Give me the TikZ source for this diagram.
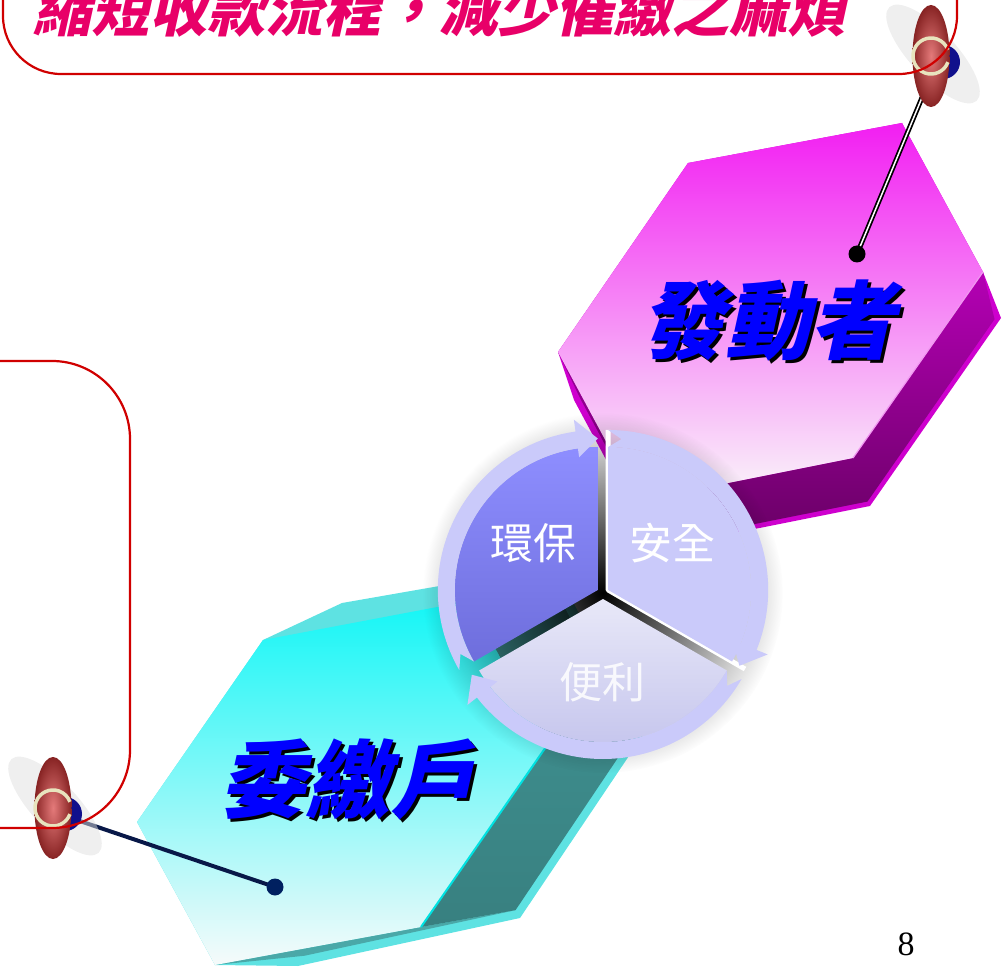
\documentclass[tikz,border=0pt]{standalone}
\usepackage{fontspec}
\newfontfamily\cjk{Noto Sans CJK TC}
\newfontfamily\cjksl[FakeSlant=0.22]{Noto Sans CJK TC}
\newfontfamily\tnr{Liberation Serif}
\usetikzlibrary{calc,fadings}
\definecolor{boxred}{RGB}{208,0,0}
\definecolor{titlepink}{RGB}{232,0,104}
\definecolor{pmRim}{RGB}{206,0,206}
\definecolor{pmSideTop}{RGB}{180,0,180}
\definecolor{pmSideBot}{RGB}{104,0,100}
\definecolor{pmFrontTop}{RGB}{242,30,242}
\definecolor{pmFrontBot}{RGB}{250,247,250}
\definecolor{pmEdge}{RGB}{240,150,240}
\definecolor{cyRim}{RGB}{94,226,226}
\definecolor{cySideTop}{RGB}{66,150,150}
\definecolor{cySideBot}{RGB}{56,128,128}
\definecolor{cyBottom}{RGB}{74,168,168}
\definecolor{cyFrontTop}{RGB}{20,246,246}
\definecolor{cyFrontBot}{RGB}{246,250,250}
\definecolor{cyEdge}{RGB}{0,226,226}
\definecolor{hbTop}{RGB}{142,142,255}
\definecolor{hbBot}{RGB}{110,110,220}
\definecolor{blTop}{RGB}{232,232,248}
\definecolor{blBot}{RGB}{194,194,236}
\definecolor{lav}{RGB}{202,202,250}
\definecolor{pinNavy}{RGB}{16,16,140}
\definecolor{pinIn}{RGB}{228,122,122}
\definecolor{pinOut}{RGB}{135,35,35}
\definecolor{cream}{RGB}{232,228,190}
\definecolor{lineNavy}{RGB}{8,24,72}
\definecolor{dotNavy}{RGB}{0,32,96}
\definecolor{headBlue}{RGB}{0,0,255}
\tikzfading[name=cfade, inner color=transparent!0, outer color=transparent!100]
\newcommand{\rsband}[3]{%
  \fill[#3] (#1:160) arc[start angle=#1, end angle={#2-8}, radius=160]
    -- ({#2-8}:172) -- (#2:151.5) -- ({#2-8}:134) -- ({#2-8}:143)
    arc[start angle={#2-8}, end angle=#1, radius=143] -- ({#1+5}:151.5) -- cycle;}
\newcommand{\rspin}[2]{%
  \begin{scope}[shift={(#1,#2)}]
    \fill[gray!25, opacity=0.5, rotate around={-47:(2,-2)}] (2,-2) ellipse[x radius=64, y radius=23];
    \fill[pinNavy] (12,6) circle[radius=17];
    \shade[inner color=pinIn, outer color=pinOut] (0,0) ellipse[x radius=18.5, y radius=51];
    \draw[cream, line width=3.5pt] (20:18) arc[start angle=20, end angle=340, radius=18];
  \end{scope}}
\tikzset{
  redbox/.style={draw=boxred, line width=2.2pt},
  headtxt/.style={font=\cjksl\bfseries\fontsize{85}{85}\selectfont, inner sep=0pt},
  lbltxt/.style={font=\cjk\fontsize{43}{43}\selectfont, text=white, inner sep=0pt},
  blackdot/.style={circle, inner sep=0pt, minimum size=17pt, fill=black},
  navydot/.style={circle, inner sep=0pt, minimum size=17pt, fill=dotNavy},
}
\begin{document}
\begin{tikzpicture}[x=1pt,y=-1pt]
\useasboundingbox (0,0) rectangle (1005,968);
\clip (0,0) rectangle (1005,968);

% ---------- purple hexagon ----------
\coordinate (pfTL) at (688,163); \coordinate (pfTR) at (902,123);
\coordinate (pfR) at (983,272);  \coordinate (pfBR) at (853,458);
\coordinate (pfBL) at (638,501); \coordinate (pfL) at (558,352);
\coordinate (pbTL) at (704,209); \coordinate (pbTR) at (918,169);
\coordinate (pbR) at (1001,318);  \coordinate (pbBR) at (870,506);
\coordinate (pbBL) at (654,549); \coordinate (pbL) at (574,400);
\coordinate (pbC) at (786,358);
\coordinate (pbRi) at ($(pbC)!0.97!(pbR)$);
\coordinate (pbBRi) at ($(pbC)!0.97!(pbBR)$);
\coordinate (pbBLi) at ($(pbC)!0.97!(pbBL)$);
\coordinate (pbLi) at ($(pbC)!0.97!(pbL)$);
\fill[pmRim] (pfTL) -- (pfTR) -- (pfR) -- (pbR) -- (pbBR) -- (pbBL) -- (pbL) -- (pfL) -- cycle;
\shade[top color=pmSideTop, bottom color=pmSideBot] (pfR) -- (pfBR) -- (pfBL) -- (pfL) -- (pbLi) -- (pbBLi) -- (pbBRi) -- (pbRi) -- cycle;
\shade[top color=pmFrontTop, bottom color=pmFrontBot] (pfTL) -- (pfTR) -- (pfR) -- (pfBR) -- (pfBL) -- (pfL) -- cycle;
\draw[pmEdge, line width=1.2pt] (pfR) -- (pfBR);

% ---------- cyan hexagon ----------
\coordinate (cfTL) at (263,640); \coordinate (cfTR) at (469,601);
\coordinate (cfR) at (548,744);  \coordinate (cfBR) at (421,927);
\coordinate (cfBL) at (215,965); \coordinate (cfL) at (137,822);
\coordinate (cbTL) at (342,603); \coordinate (cbTR) at (554,566);
\coordinate (cbR) at (643,735);  \coordinate (cbBR) at (520,918);
\coordinate (cbBL) at (298,966); \coordinate (cbL) at (215,800);
\coordinate (cbC) at ($(cbTL)!0.5!(cbBR)$);
\coordinate (cbTRi) at ($(cbC)!0.95!(cbTR)$);
\coordinate (cbRi) at ($(cbC)!0.95!(cbR)$);
\coordinate (cbBRi) at ($(cbC)!0.95!(cbBR)$);
\coordinate (cbBLi) at ($(cbC)!0.95!(cbBL)$);
\fill[cyRim] (cfL) -- (cfTL) -- (cbTL) -- (cbTR) -- (cbR) -- (cbBR) -- (cbBL) -- (cfBL) -- cycle;
\fill[cyBottom] (cfBR) -- (cfBL) -- (cbBLi) -- (cbBRi) -- cycle;
\shade[top color=cySideTop, bottom color=cySideBot] (cfTR) -- (cfR) -- (cfBR) -- (cbBRi) -- (cbRi) -- (cbTRi) -- cycle;
\shade[top color=cyFrontTop, bottom color=cyFrontBot] (cfTL) -- (cfTR) -- (cfR) -- (cfBR) -- (cfBL) -- (cfL) -- cycle;
\draw[cyEdge, line width=2pt] (cfR) -- (cfBR);

% ---------- headings ----------
\node[headtxt, text=black] (pShadow) at (771,324) {發動者};
\node[headtxt, text=headBlue] (pLabel) at (768,321) {發動者};
\node[headtxt, text=black] (cShadow) at (351,782) {委繳戶};
\node[headtxt, text=headBlue] (cLabel) at (348,779) {委繳戶};

% ---------- cycle ----------
\begin{scope}[shift={(603,593)}]
  \fill[black, path fading=cfade] (0,0) circle[radius=180];
  % 環保
  \begin{scope}[shift={(210:6)}]
    \shade[top color=hbTop, bottom color=hbBot] (0,0) -- (150:143) arc[start angle=150, end angle=270, radius=143] -- cycle;
    \rsband{150}{270}{lav}
  \end{scope}
  % 安全
  \begin{scope}[shift={(330:6)}]
    \draw[white, line width=5pt, line join=round] (270:160) -- (0,0) -- (30:158);
    \fill[lav] (0,0) -- (270:143) arc[start angle=270, end angle=390, radius=143] -- cycle;
    \rsband{270}{390}{lav}
  \end{scope}
  % 便利
  \begin{scope}[shift={(90:6)}]
    \shade[top color=blTop, bottom color=blBot] (0,0) -- (30:143) arc[start angle=30, end angle=150, radius=143] -- cycle;
    \rsband{30}{150}{lav}
  \end{scope}
\end{scope}
\node[lbltxt] (l1) at (533,543) {環保};
\node[lbltxt] (l2) at (672,543) {安全};
\node[lbltxt, text opacity=0.85] (l3) at (602,682) {便利};

% ---------- pins and leaders ----------
\coordinate (a1) at (926,88);
\coordinate (a2) at (857,254);
\draw[black, line width=5pt] (a1) -- (a2);
\draw[white, line width=1.5pt] (a1) -- (a2);
\node[blackdot] (dotA) at (a2) {};
\coordinate (b1) at (62,815);
\coordinate (b2) at (275,887);
\draw[lineNavy, line width=4pt] (b1) -- (b2);
\node[navydot] (dotB) at (b2) {};
\rspin{931}{56}
\rspin{53}{808}

% ---------- boxes ----------
\draw[redbox, rounded corners=58pt] (3,-80) rectangle (957,74);
\draw[redbox, rounded corners=78pt] (-100,361) rectangle (130,828);

% ---------- title & page number ----------
\node[font=\cjksl\bfseries\fontsize{58}{58}\selectfont, text=titlepink, inner sep=0pt] (title) at (440,9) {縮短收款流程，減少催繳之麻煩};
\node[font=\tnr\fontsize{34}{34}\selectfont, inner sep=0pt] (pg) at (906,944) {8};
\end{tikzpicture}
\end{document}
